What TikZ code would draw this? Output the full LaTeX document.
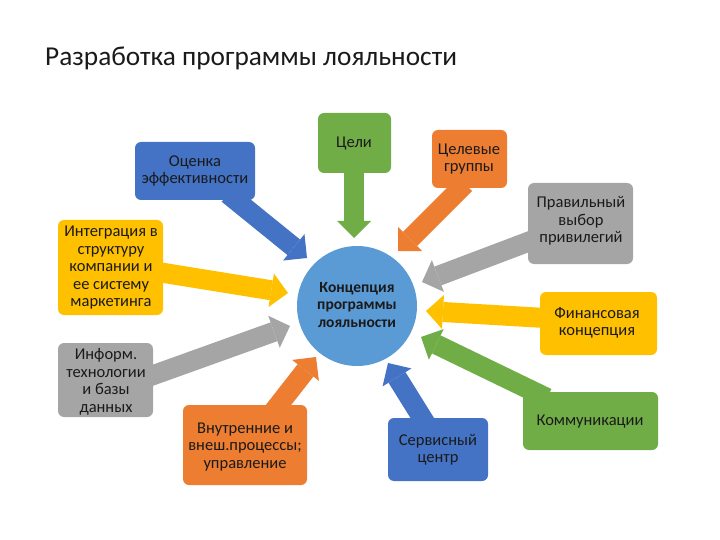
\documentclass[tikz,border=0pt]{standalone}
\usepackage{fontspec}
\setmainfont{Carlito}
\usetikzlibrary{arrows.meta}
\definecolor{obl}{HTML}{4472C4}
\definecolor{ocirc}{HTML}{5B9BD5}
\definecolor{ogr}{HTML}{70AD47}
\definecolor{oor}{HTML}{ED7D31}
\definecolor{ogy}{HTML}{A5A5A5}
\definecolor{oye}{HTML}{FFC000}
\definecolor{txt}{HTML}{1A1A1A}
\begin{document}
\begin{tikzpicture}[x=1pt,y=-1pt,
  box/.style={rounded corners=6pt, inner sep=0pt, draw=none},
  lbl/.style={align=center, font=\fontsize{16.5}{17.5}\selectfont, text=txt, inner sep=0pt},
  blk/.style={line width=20pt, -{Triangle[length=17pt 0 0, width=34pt 0 0, line width=0pt]}},
]
\useasboundingbox (0,0) rectangle (720,540);
\node[anchor=west, font=\fontsize{27.3}{30}\selectfont, text=txt, inner sep=0pt] (title) at (45,58) {Разработка программы лояльности};

% tails and tips
\coordinate (tGoal) at (354,165);   \coordinate (hGoal) at (354,238);
\coordinate (tTgrp) at (465,184);   \coordinate (hTgrp) at (398,251);
\coordinate (tEval) at (228,194);   \coordinate (hEval) at (307,258);
\coordinate (tInteg) at (158,272);  \coordinate (hInteg) at (288,293);
\coordinate (tInfo) at (148,377);   \coordinate (hInfo) at (290,326);
\coordinate (tPriv) at (533,240);   \coordinate (hPriv) at (422,282);
\coordinate (tFin) at (545,318);    \coordinate (hFin) at (426,311);
\coordinate (tComm) at (547,398);   \coordinate (hComm) at (421,337);
\coordinate (tProc) at (273,412);   \coordinate (hProc) at (316,357);
\coordinate (tServ) at (426,424);   \coordinate (hServ) at (388,363);

\draw[blk, ogr] (tGoal) -- (hGoal);
\draw[blk, oor] (tTgrp) -- (hTgrp);
\draw[blk, obl] (tEval) -- (hEval);
\draw[blk, oye] (tInteg) -- (hInteg);
\draw[blk, ogy] (tInfo) -- (hInfo);
\draw[blk, ogy] (tPriv) -- (hPriv);
\draw[blk, oye] (tFin) -- (hFin);
\draw[blk, ogr] (tComm) -- (hComm);
\draw[blk, oor] (tProc) -- (hProc);
\draw[blk, obl] (tServ) -- (hServ);

% boxes
\node[box, fill=ogr, minimum width=73pt, minimum height=60pt] (goal) at (354.5,143) {};
\node[box, fill=oor, minimum width=75pt, minimum height=58pt] (tgrp) at (469.5,159) {};
\node[box, fill=obl, minimum width=120pt, minimum height=58pt] (eval) at (195,171) {};
\node[box, fill=oye, minimum width=105pt, minimum height=95pt] (integ) at (110.5,267.5) {};
\node[box, fill=ogy, minimum width=95pt, minimum height=74pt] (info) at (105.5,380) {};
\node[box, fill=ogy, minimum width=105pt, minimum height=81pt] (priv) at (580.5,223.5) {};
\node[box, fill=oye, minimum width=117pt, minimum height=63pt] (fin) at (598.5,323.5) {};
\node[box, fill=ogr, minimum width=135pt, minimum height=58pt] (comm) at (590.5,421) {};
\node[box, fill=oor, minimum width=124pt, minimum height=80pt] (proc) at (245,445) {};
\node[box, fill=obl, minimum width=100pt, minimum height=63pt] (serv) at (438,449.5) {};
\node[circle, fill=ocirc, minimum size=120pt, inner sep=0pt] (core) at (357,306) {};

% labels
\node[lbl] (lGoal) at (354,143) {Цели};
\node[lbl] (lTgrp) at (469,159) {Целевые\\группы};
\node[lbl] (lEval) at (195,171) {Оценка\\эффективности};
\node[lbl] (lInteg) at (111,268) {Интеграция в\\структуру\\компании и\\ее систему\\маркетинга};
\node[lbl] (lInfo) at (106,382) {Информ.\\технологии\\и базы\\данных};
\node[lbl] (lPriv) at (581,221) {Правильный\\выбор\\привилегий};
\node[lbl] (lFin) at (597,323) {Финансовая\\концепция};
\node[lbl] (lComm) at (590,422) {Коммуникации};
\node[lbl] (lProc) at (245,447) {Внутренние и\\внеш.процессы;\\управление};
\node[lbl] (lServ) at (438,450) {Сервисный\\центр};
\node[lbl, font=\fontsize{15.5}{17.5}\selectfont\bfseries] (lCore) at (357,305) {Концепция\\программы\\лояльности};
\end{tikzpicture}
\end{document}
